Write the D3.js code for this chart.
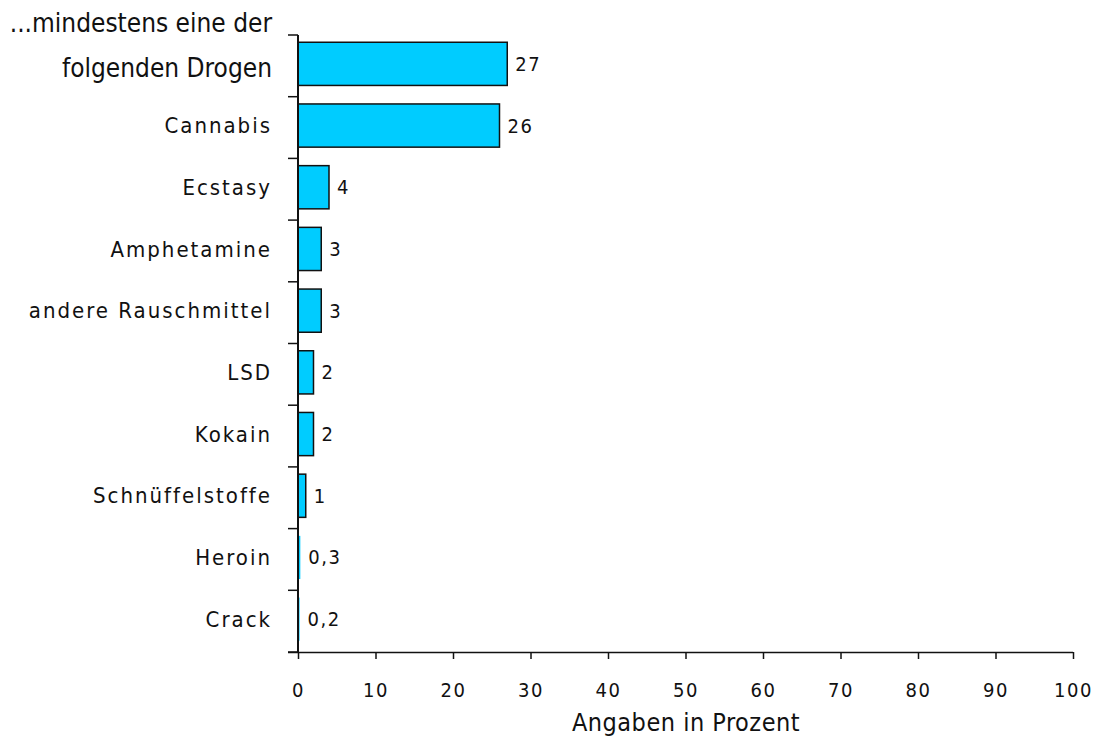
<!DOCTYPE html>
<html>
<head>
<meta charset="utf-8">
<script src="https://cdn.jsdelivr.net/npm/d3@7"></script>
<style>
  body { margin: 0; background: #fff; }
  svg text { font-family: "Liberation Sans Narrow", "DejaVu Sans Condensed", sans-serif; fill: #111; }
</style>
</head>
<body>
<svg id="chart" width="1093" height="740"></svg>
<script>
// Drogenkonsum, Angaben in Prozent
const categories = [
  "...mindestens eine der|folgenden Drogen",
  "Cannabis",
  "Ecstasy",
  "Amphetamine",
  "andere Rauschmittel",
  "LSD",
  "Kokain",
  "Schnüffelstoffe",
  "Heroin",
  "Crack",
];
const values = [27, 26, 4, 3, 3, 2, 2, 1, 0.3, 0.2];
const valueLabels = ["27", "26", "4", "3", "3", "2", "2", "1", "0,3", "0,2"];
const xTicks = [0, 10, 20, 30, 40, 50, 60, 70, 80, 90, 100];

const svg = d3.select("#chart");
const plotLeft = 298, plotRight = 1073, plotTop = 35, plotBottom = 652;

const x = d3.scaleLinear().domain([0, 100]).range([plotLeft, plotRight]);
// bars sit a little above the band centre in the original
const y = d3.scaleBand().domain(d3.range(categories.length))
  .range([plotTop - 2, plotBottom - 2]).paddingInner(0.3).paddingOuter(0.15);

// bars
svg.selectAll("rect.bar")
  .data(values)
  .enter()
  .append("rect")
  .attr("class", "bar")
  .attr("x", x(0))
  .attr("y", (d, i) => y(i))
  .attr("width", d => x(d) - x(0))
  .attr("height", y.bandwidth())
  .attr("fill", "#00ccff")
  .attr("stroke", d => (x(d) - x(0) > 4 ? "#111" : "none"))
  .attr("stroke-width", 1.5);

// value labels
svg.selectAll("text.val")
  .data(values)
  .enter()
  .append("text")
  .attr("class", "val")
  .attr("x", d => x(d) + 8)
  .attr("y", (d, i) => y(i) + y.bandwidth() / 2)
  .attr("dy", "0.35em")
  .style("font-size", "20px")
  .style("letter-spacing", "1.5px")
  .text((d, i) => valueLabels[i]);

// y axis line + ticks at band boundaries
const step = (plotBottom - plotTop) / categories.length;
svg.append("line")
  .attr("x1", plotLeft).attr("x2", plotLeft)
  .attr("y1", plotTop).attr("y2", plotBottom)
  .attr("stroke", "#111").attr("stroke-width", 2);
svg.selectAll("line.ytick")
  .data(d3.range(categories.length + 1))
  .enter()
  .append("line")
  .attr("class", "ytick")
  .attr("x1", plotLeft - 10).attr("x2", plotLeft)
  .attr("y1", i => plotTop + i * step).attr("y2", i => plotTop + i * step)
  .attr("stroke", "#111").attr("stroke-width", 1.5);

// category labels
categories.forEach((c, i) => {
  const cy = y(i) + y.bandwidth() / 2;
  const parts = c.split("|");
  if (parts.length > 1) {
    const t = svg.append("text")
      .attr("text-anchor", "end")
      .style("font-size", "26px");
    t.append("tspan").attr("x", 272).attr("y", cy - 32).text(parts[0]);
    t.append("tspan").attr("x", 272).attr("y", cy + 13).text(parts[1]);
  } else {
    svg.append("text")
      .attr("x", 272)
      .attr("y", cy)
      .attr("dy", "0.35em")
      .attr("text-anchor", "end")
      .style("font-size", "22px")
      .style("letter-spacing", "2px")
      .text(c);
  }
});

// x axis
const xAxis = svg.append("g")
  .attr("transform", `translate(0,${plotBottom})`)
  .call(d3.axisBottom(x).tickValues(xTicks).tickSize(7).tickPadding(24).tickFormat(d3.format("d")));
xAxis.attr("font-family", null).attr("font-size", null);
xAxis.select(".domain").attr("d", `M${plotLeft - 10},0.5H${plotRight}`).attr("stroke", "#111").attr("stroke-width", 1.5);
xAxis.selectAll(".tick line").attr("stroke", "#111").attr("stroke-width", 1.5);
xAxis.selectAll(".tick text")
  .style("font-size", "20px")
  .style("letter-spacing", "1.5px")
  .attr("fill", "#111");

svg.append("text")
  .attr("x", 686)
  .attr("y", 731)
  .attr("text-anchor", "middle")
  .style("font-size", "25px")
  .style("letter-spacing", "0.5px")
  .text("Angaben in Prozent");
</script>
</body>
</html>
